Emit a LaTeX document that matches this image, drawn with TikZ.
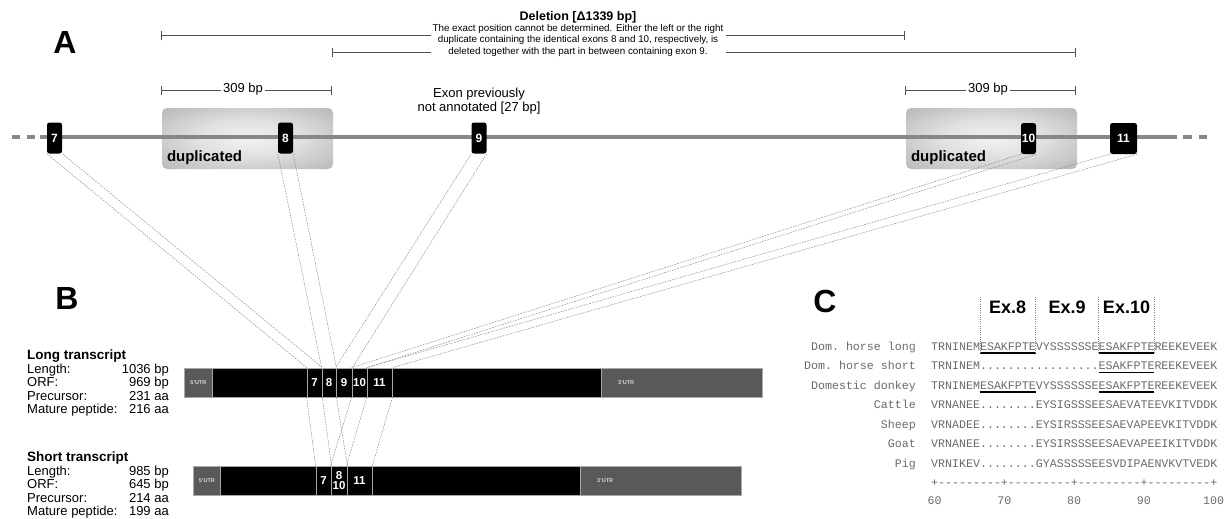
\documentclass[tikz,border=0pt]{standalone}
\usepackage{fontspec}
\setmainfont{Liberation Sans}
\setmonofont{Liberation Mono}
\usetikzlibrary{positioning,arrows.meta}

\definecolor{backbone}{HTML}{878787}
\definecolor{utrgray}{HTML}{58595B}
\definecolor{barline}{HTML}{A8A8A8}
\definecolor{spangray}{HTML}{505050}
\definecolor{seqgray}{HTML}{6A6A6A}
\pgfdeclareradialshading{dupglow}{\pgfpoint{0bp}{0bp}}{color(0bp)=(gray!10); color(15bp)=(gray!24); color(35bp)=(gray!55); color(50bp)=(gray!62)}

\tikzset{
  panel/.style={font=\bfseries\fontsize{32}{32}\selectfont},
  span/.style={draw=spangray, line width=1pt, {Bar[width=9pt]}-{Bar[width=9pt]}},
  exon/.style={fill=black, rounded corners=2.5pt, minimum width=15, minimum height=31, inner sep=0pt, text=white, font=\bfseries\fontsize{12}{12}\selectfont},
  dupbox/.style={rounded corners=5pt, minimum width=171, minimum height=61, shading=dupglow},
  utr/.style={fill=utrgray, draw=barline, line width=0.8pt, minimum height=29, inner sep=0pt},
  cds/.style={fill=black, draw=barline, line width=0.8pt, minimum height=29, inner sep=0pt},
  trex/.style={cds, text=white, font=\bfseries\fontsize{11.5}{11.5}\selectfont},
  utrlab/.style={text=white!85!black, inner sep=0pt, font=\bfseries\fontsize{5.5}{6}\selectfont},
  link/.style={draw=gray!90, line width=0.5pt, dash pattern=on 1.6pt off 1.1pt},
  infohead/.style={inner sep=0pt, font=\bfseries\fontsize{13.5}{14}\selectfont},
  info/.style={inner sep=0pt, font=\fontsize{13}{14}\selectfont},
  seq/.style={inner sep=0pt, text=seqgray, font=\ttfamily\fontsize{11.63}{12}\selectfont},
  uline/.style={draw=black, line width=1.4pt},
  guide/.style={draw=gray, line width=0.6pt, dash pattern=on 1pt off 1.2pt}
}
\def\cw{6.98pt}

\begin{document}
\begin{tikzpicture}[x=1pt,y=-1pt]
\useasboundingbox (0,0) rectangle (1228,519);

\node[panel] (pA) at (65,42) {A};
\node[panel] (pB) at (67,298) {B};
\node[panel] (pC) at (825,301) {C};

% deletion
\draw[span] (161,36) -- (905,36);
\draw[span] (332,53) -- (1076,53);
\node[fill=white, align=center, minimum width=295, inner xsep=1pt, inner ysep=1pt, font=\fontsize{9.8}{11.5}\selectfont] (delnote) at (578,40)
  {The exact position cannot be determined. Either the left or the right\\duplicate containing the identical exons 8 and 10, respectively, is\\deleted together with the part in between containing exon 9.};
\node[font=\bfseries\fontsize{12.5}{14}\selectfont] (deltitle) at (578,17) {Deletion [Δ1339 bp]};

% 309 bp
\draw[span] (161,90) -- (332,90);
\draw[span] (905,90) -- (1076,90);
\node[fill=white, inner xsep=2pt, inner ysep=0pt, font=\fontsize{13}{14}\selectfont] (bpL) at (243,89) {309 bp};
\node[fill=white, inner xsep=2pt, inner ysep=0pt, font=\fontsize{13}{14}\selectfont] (bpR) at (988,89) {309 bp};
\node[align=center, font=\fontsize{13}{14}\selectfont] (newex) at (479,101) {Exon previously\\not annotated [27 bp]};

% gene
\node[dupbox] (dupL) at (247.5,138.5) {};
\node[dupbox] (dupR) at (991.5,138.5) {};
\draw[backbone, line width=4pt] (40,137) -- (1177,137);
\draw[backbone, line width=4pt, dash pattern=on 8pt off 7pt] (12,137) -- (40,137);
\draw[backbone, line width=4pt, dash pattern=on 9pt off 7pt] (1183,137) -- (1207,137);
\node[anchor=west, inner sep=0pt, font=\bfseries\fontsize{15}{15}\selectfont] (dupLtxt) at ([xshift=5pt,yshift=12pt]dupL.south west) {duplicated};
\node[anchor=west, inner sep=0pt, font=\bfseries\fontsize{15}{15}\selectfont] (dupRtxt) at ([xshift=5pt,yshift=12pt]dupR.south west) {duplicated};

\node[exon] (e7) at (54.5,138) {7};
\node[exon] (e8) at (285.5,138) {8};
\node[exon] (e9) at (479,138) {9};
\node[exon] (e10) at (1028.5,138.5) {10};
\node[exon, minimum width=27] (e11) at (1123.5,138.5) {11};

% long transcript
\node[utr, minimum width=28, anchor=west] (L5) at (184,382.5) {};
\node[cds, minimum width=389, anchor=west] (Lcds) at (212,382.5) {};
\node[utr, minimum width=161, anchor=west] (L3) at (601,382.5) {};
\node[utrlab] (L5lab) at (L5) {5'UTR};
\node[utrlab, right=17pt of L3.west] (L3lab) {3'UTR};
\node[trex, minimum width=15] (L7) at (314.5,382.5) {7};
\node[trex, minimum width=14] (L8) at (329,382.5) {8};
\node[trex, minimum width=16] (L9) at (344,382.5) {9};
\node[trex, minimum width=15] (L10) at (359.5,382.5) {10};
\node[trex, minimum width=25] (L11) at (379.5,382.5) {11};

% short transcript
\node[utr, minimum width=27, anchor=west] (S5) at (193,480.5) {};
\node[cds, minimum width=360, anchor=west] (Scds) at (220,480.5) {};
\node[utr, minimum width=161, anchor=west] (S3) at (580,480.5) {};
\node[utrlab] (S5lab) at (S5) {5'UTR};
\node[utrlab, right=17pt of S3.west] (S3lab) {3'UTR};
\node[trex, minimum width=15] (S7) at (323.5,480.5) {7};
\node[trex, minimum width=16, align=center, font=\bfseries\fontsize{11.5}{10.5}\selectfont] (S810) at (339,480.5) {8\\10};
\node[trex, minimum width=25] (S11) at (359.5,480.5) {11};

\foreach \a/\b in {e7/L7,e8/L8,e9/L9,e10/L10,e11/L11} {
  \path[link] (\a.south west) -- (\b.north west);
  \path[link] (\a.south east) -- (\b.north east);
}
\path[link] (L7.south west) -- (S7.north west);
\path[link] (L7.south east) -- (S7.north east);
\path[link] (L8.south east) -- (S810.north east);
\path[link] (L10.south west) -- (S810.north west);
\path[link] (L11.south west) -- (S11.north west);
\path[link] (L11.south east) -- (S11.north east);

% transcript data
\node[infohead, anchor=base west] (longhead) at (27,359.5) {Long transcript};
\foreach \lab/\val [count=\i] in {Length:/1036 bp, ORF:/969 bp, Precursor:/231 aa, Mature peptide:/216 aa} {
  \node[info, anchor=base west] (lk\i) at (27,{359.5+13.5*\i}) {\lab};
  \node[info, anchor=base east] (lv\i) at (169,{359.5+13.5*\i}) {\val};
}
\node[infohead, anchor=base west] (shorthead) at (27,461.5) {Short transcript};
\foreach \lab/\val [count=\i] in {Length:/985 bp, ORF:/645 bp, Precursor:/214 aa, Mature peptide:/199 aa} {
  \node[info, anchor=base west] (sk\i) at (27,{461.5+13.5*\i}) {\lab};
  \node[info, anchor=base east] (sv\i) at (169,{461.5+13.5*\i}) {\val};
}

% alignment
\node[seq, anchor=base east] (n1) at (916,350) {Dom.\ horse long};
\node[seq, anchor=base east] (n2) at (916,369.5) {Dom.\ horse short};
\node[seq, anchor=base east] (n3) at (916,389) {Domestic donkey};
\node[seq, anchor=base east] (n4) at (916,408.5) {Cattle};
\node[seq, anchor=base east] (n5) at (916,428) {Sheep};
\node[seq, anchor=base east] (n6) at (916,447.5) {Goat};
\node[seq, anchor=base east] (n7) at (916,467) {Pig};
\node[seq, anchor=base west] (r1) at (931,350) {TRNINEMESAKFPTEVYSSSSSSEESAKFPTEREEKEVEEK};
\node[seq, anchor=base west] (r2) at (931,369.5) {TRNINEM.................ESAKFPTEREEKEVEEK};
\node[seq, anchor=base west] (r3) at (931,389) {TRNINEMESAKFPTEVYSSSSSSEESAKFPTEREEKEVEEK};
\node[seq, anchor=base west] (r4) at (931,408.5) {VRNANEE........EYSIGSSSEESAEVATEEVKITVDDK};
\node[seq, anchor=base west] (r5) at (931,428) {VRNADEE........EYSIRSSSEESAEVAPEEVKITVDDK};
\node[seq, anchor=base west] (r6) at (931,447.5) {VRNANEE........EYSIRSSSEESAEVAPEEIKITVDDK};
\node[seq, anchor=base west] (r7) at (931,467) {VRNIKEV........GYASSSSSEESVDIPAENVKVTVEDK};
\node[seq, anchor=base west] (axis) at (931,486.5) {+---------+---------+---------+---------+};
\foreach \v [count=\k from 0] in {60,70,80,90,100}
  \node[seq, anchor=base] (t\v) at ({934.5+69.8*\k},504) {\v};

\foreach \r in {1,3}
  \draw[uline] ([xshift=7*\cw,yshift=-3pt]r\r.base west) -- ([xshift=15*\cw,yshift=-3pt]r\r.base west);
\foreach \r in {1,2,3}
  \draw[uline] ([xshift=24*\cw,yshift=-3pt]r\r.base west) -- ([xshift=32*\cw,yshift=-3pt]r\r.base west);
\foreach \c in {7,15,24,32}
  \draw[guide] ([xshift=\c*\cw,yshift=-3pt]r1.base west) -- ++(0,-57);

\node[font=\bfseries\fontsize{18}{18}\selectfont] (ex8) at (1007.5,307) {Ex.8};
\node[font=\bfseries\fontsize{18}{18}\selectfont] (ex9) at (1067,307) {Ex.9};
\node[font=\bfseries\fontsize{18}{18}\selectfont] (ex10) at (1126.5,307) {Ex.10};
\end{tikzpicture}
\end{document}
